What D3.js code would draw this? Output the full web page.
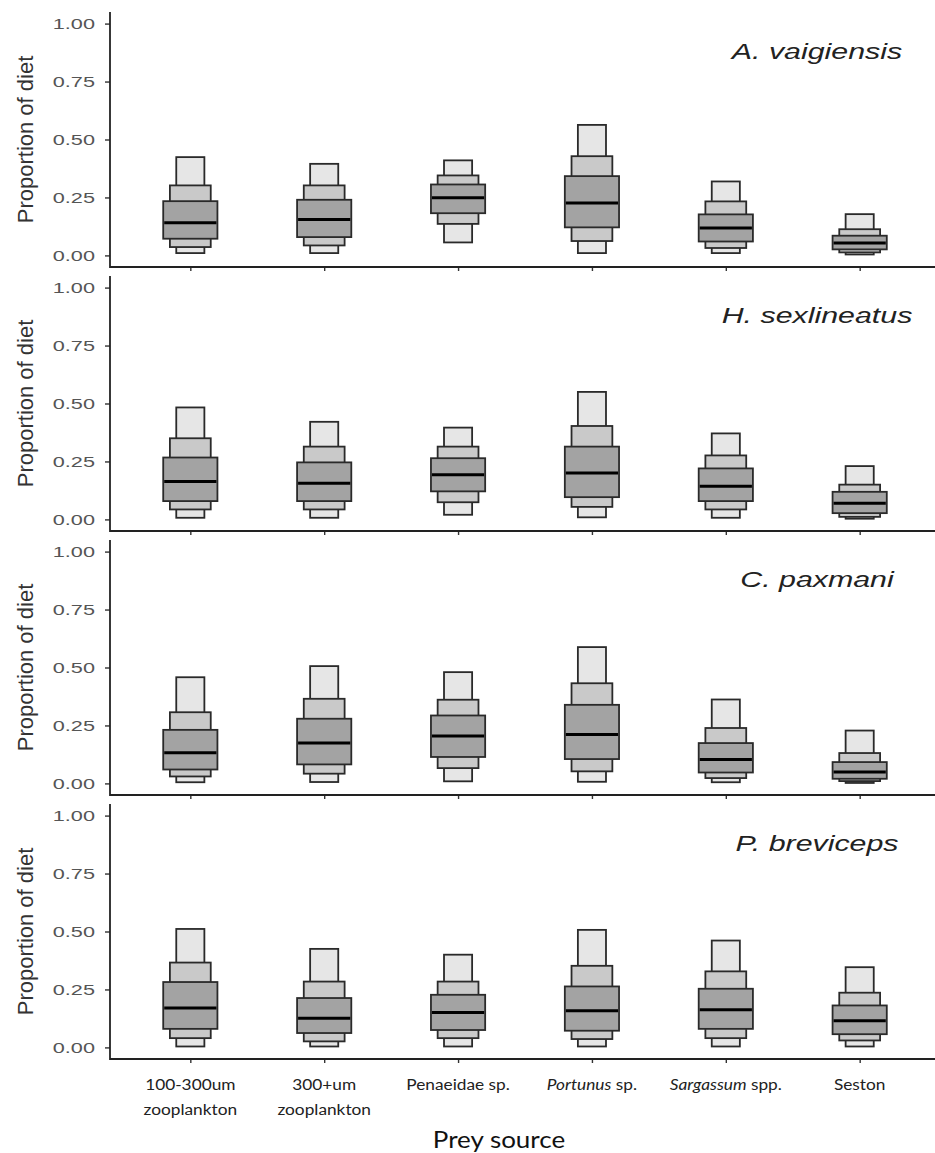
<!DOCTYPE html>
<html>
<head>
<meta charset="utf-8">
<script src="https://cdn.jsdelivr.net/npm/d3@7"></script>
<style>
  html, body { margin: 0; padding: 0; background: #fff; }
  svg { display: block; }
</style>
</head>
<body>
<svg id="chart" width="935" height="1153"></svg>
<script>
// ---------- data ----------
const categories = ["100-300um zooplankton", "300+um zooplankton", "Penaeidae sp.", "Portunus sp.", "Sargassum spp.", "Seston"];
const species = ["A. vaigiensis", "H. sexlineatus", "C. paxmani", "P. breviceps"];
const yTicks = [0, 0.25, 0.5, 0.75, 1.0];
// each entry: [2.5%, 12.5%, 25%, median, 75%, 87.5%, 97.5%]
const vaigiensis = [
  [0.010, 0.036, 0.072, 0.141, 0.234, 0.302, 0.424],
  [0.010, 0.043, 0.079, 0.155, 0.240, 0.302, 0.395],
  [0.056, 0.136, 0.182, 0.249, 0.306, 0.345, 0.410],
  [0.010, 0.062, 0.121, 0.226, 0.342, 0.428, 0.563],
  [0.010, 0.032, 0.060, 0.118, 0.177, 0.233, 0.319],
  [0.004, 0.013, 0.026, 0.053, 0.085, 0.113, 0.178]
];
const sexlineatus = [
  [0.007, 0.043, 0.079, 0.164, 0.267, 0.350, 0.483],
  [0.007, 0.043, 0.079, 0.156, 0.246, 0.314, 0.421],
  [0.020, 0.074, 0.121, 0.193, 0.264, 0.314, 0.396],
  [0.009, 0.054, 0.096, 0.200, 0.314, 0.403, 0.550],
  [0.007, 0.043, 0.079, 0.143, 0.220, 0.276, 0.371],
  [0.003, 0.011, 0.027, 0.070, 0.119, 0.150, 0.230]
];
const paxmani = [
  [0.005, 0.030, 0.060, 0.132, 0.231, 0.307, 0.458],
  [0.006, 0.042, 0.082, 0.174, 0.279, 0.365, 0.506],
  [0.009, 0.066, 0.114, 0.204, 0.293, 0.361, 0.480],
  [0.007, 0.052, 0.105, 0.211, 0.339, 0.432, 0.588],
  [0.005, 0.023, 0.047, 0.103, 0.174, 0.239, 0.362],
  [0.002, 0.010, 0.020, 0.049, 0.092, 0.131, 0.228]
];
const breviceps = [
  [0.004, 0.040, 0.080, 0.170, 0.282, 0.366, 0.511],
  [0.004, 0.026, 0.062, 0.126, 0.213, 0.284, 0.425],
  [0.004, 0.040, 0.075, 0.151, 0.227, 0.284, 0.400],
  [0.004, 0.036, 0.072, 0.158, 0.263, 0.352, 0.507],
  [0.004, 0.040, 0.080, 0.162, 0.253, 0.328, 0.461],
  [0.004, 0.030, 0.057, 0.115, 0.181, 0.236, 0.346]
];
const panelsData = [vaigiensis, sexlineatus, paxmani, breviceps];

// ---------- layout ----------
const svg = d3.select("#chart");
const left = 110, right = 940;
const panelTop0 = 12, panelH = 255, panelGap = 9;

const x = d3.scalePoint().domain(categories).range([left, right]).padding(0.6);
const step = x.step();
const wLight = step * 0.21, wMid = step * 0.305, wDark = step * 0.405;

const fills = { light: "#e6e6e6", mid: "#c9c9c9", dark: "#a3a3a3" };

function stretchText(g, tx, ty, sx, rot) {
  const t = g.append("text")
    .attr("transform", `translate(${tx},${ty})` + (rot ? ` rotate(${rot})` : "") + ` scale(${sx},1)`);
  return t;
}

panelsData.forEach((data, pi) => {
  const top = panelTop0 + pi * (panelH + panelGap);
  const bottom = top + panelH;
  const y = d3.scaleLinear().domain([-0.05, 1.05]).range([bottom, top]);
  const g = svg.append("g");

  // boxes
  data.forEach((q, ci) => {
    const cx = x(categories[ci]);
    const bg = g.append("g");
    const layers = [
      { lo: q[0], hi: q[6], w: wLight, f: fills.light },
      { lo: q[1], hi: q[5], w: wMid, f: fills.mid },
      { lo: q[2], hi: q[4], w: wDark, f: fills.dark }
    ];
    layers.forEach(L => {
      bg.append("rect")
        .attr("x", cx - L.w / 2)
        .attr("width", L.w)
        .attr("y", y(L.hi))
        .attr("height", y(L.lo) - y(L.hi))
        .attr("fill", L.f)
        .attr("stroke", "#2a2a2a")
        .attr("stroke-width", 1.8);
    });
    bg.append("line")
      .attr("x1", cx - wDark / 2 + 1).attr("x2", cx + wDark / 2 - 1)
      .attr("y1", y(q[3])).attr("y2", y(q[3]))
      .attr("stroke", "#000").attr("stroke-width", 3);
  });

  // y axis
  const yAxis = d3.axisLeft(y).tickValues(yTicks).tickSize(5).tickFormat(d3.format(".2f"));
  const ya = g.append("g").attr("transform", `translate(${left},0)`).call(yAxis);
  ya.select(".domain").remove();
  ya.selectAll(".tick line").attr("stroke", "#333").attr("stroke-width", 1.4);
  ya.selectAll(".tick text").remove();
  yTicks.forEach(v => {
    stretchText(g, left - 15, y(v) + 5.5, 1.4)
      .attr("text-anchor", "end")
      .attr("font-family", "'Liberation Sans', Arial, sans-serif")
      .attr("font-size", 15.5)
      .attr("fill", "#555")
      .text(d3.format(".2f")(v));
  });

  // x axis
  const xAxis = d3.axisBottom(x).tickSize(4).tickFormat("");
  const xa = g.append("g").attr("transform", `translate(0,${bottom})`).call(xAxis);
  xa.select(".domain").remove();
  xa.selectAll(".tick line").attr("stroke", "#333").attr("stroke-width", 1.4);

  // axis lines
  g.append("line").attr("x1", left).attr("x2", left).attr("y1", top).attr("y2", bottom + 0.9)
    .attr("stroke", "#222").attr("stroke-width", 1.8);
  g.append("line").attr("x1", left).attr("x2", 935).attr("y1", bottom).attr("y2", bottom)
    .attr("stroke", "#222").attr("stroke-width", 1.8);

  // y title
  g.append("text")
    .attr("transform", `translate(33,${(y(0) + y(1)) / 2}) rotate(-90)`)
    .attr("text-anchor", "middle")
    .attr("font-family", "'Liberation Sans', Arial, sans-serif")
    .attr("font-size", 22)
    .attr("fill", "#333")
    .text("Proportion of diet");

  // species label
  stretchText(g, 817, top + 47, 1.38)
    .attr("text-anchor", "middle")
    .attr("font-family", "'Liberation Sans', Arial, sans-serif")
    .attr("font-style", "italic")
    .attr("font-size", 22)
    .attr("fill", "#222")
    .text(species[pi]);
});

// x category labels
const lastBottom = panelTop0 + 3 * (panelH + panelGap) + panelH;
const labelFont = "Lato, 'Open Sans', sans-serif";
const italicWord = { "Portunus sp.": "Portunus", "Sargassum spp.": "Sargassum" };
categories.forEach(c => {
  const cx = x(c);
  let lines = c.endsWith("zooplankton") ? [c.replace(" zooplankton", ""), "zooplankton"] : [c];
  lines.forEach((ln, li) => {
    const t = stretchText(svg, cx, lastBottom + 31 + li * 25, 1.08)
      .attr("text-anchor", "middle")
      .attr("font-family", labelFont)
      .attr("font-size", 16)
      .attr("fill", "#222");
    const iw = italicWord[ln];
    if (iw) {
      t.append("tspan").attr("font-style", "italic").text(iw);
      t.append("tspan").text(ln.slice(iw.length));
    } else {
      t.text(ln);
    }
  });
});

// x title
stretchText(svg, 499, lastBottom + 89, 1.13)
  .attr("text-anchor", "middle")
  .attr("font-family", labelFont)
  .attr("font-size", 23)
  .attr("fill", "#111")
  .text("Prey source");
</script>
</body>
</html>
